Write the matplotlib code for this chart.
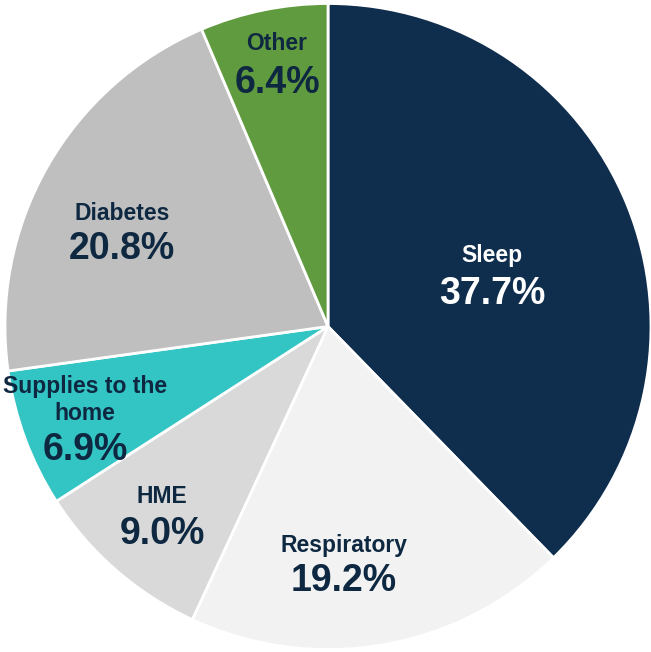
import matplotlib.pyplot as plt

#Share of revenue by product line
categories = ['Sleep', 'Respiratory', 'HME', 'Supplies to the\nhome', 'Diabetes', 'Other']
shares = [37.7, 19.2, 9.0, 6.9, 20.8, 6.4]

colors = ['#0F2D4C', '#F2F2F2', '#D9D9D9', '#33C4C4', '#BFBFBF', '#619B3F']
text_colors = ['white', '#0E2841', '#0E2841', '#0E2841', '#0E2841', '#0E2841']
#label anchor (x, name y, pct y) in units of the pie radius
label_pos = [(0.508, 0.219, 0.101),
             (0.050, -0.679, -0.788),
             (-0.514, -0.527, -0.641),
             (-0.752, -0.227, -0.382),
             (-0.638, 0.349, 0.240),
             (-0.158, 0.875, 0.754)]

plt.rcParams['font.family'] = ['Liberation Sans', 'DejaVu Sans']

fig = plt.figure(figsize=(6.51, 6.52), dpi=100)
ax = fig.add_axes([0, 0, 1, 1])
ax.pie(shares,
       colors=colors,
       startangle=90,
       counterclock=False,
       radius=1,
       wedgeprops=dict(edgecolor='white', linewidth=2))

for name, val, tc, (x, yn, yp) in zip(categories, shares, text_colors, label_pos):
    ax.text(x, yn, name, ha='center', va='center', fontsize=16.5,
            fontweight='bold', color=tc, linespacing=1.25)
    ax.text(x, yp, f'{val:.1f}%', ha='center', va='center', fontsize=27,
            fontweight='bold', color=tc)

ax.set_xlim(-1.0155, 1.0)
ax.set_ylim(-1.0077, 1.0108)
ax.set_aspect('equal')
ax.axis('off')

plt.savefig('out.png', dpi=100, facecolor='white')
